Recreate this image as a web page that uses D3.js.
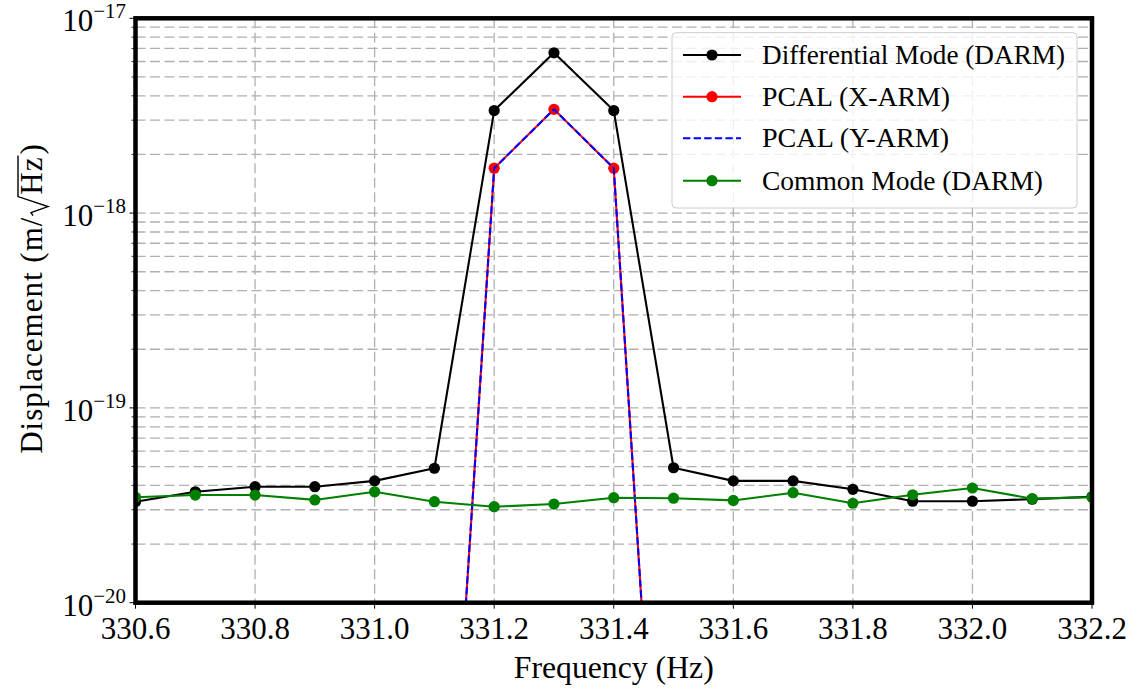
<!DOCTYPE html>
<html>
<head>
<meta charset="utf-8">
<script src="https://cdn.jsdelivr.net/npm/d3@7"></script>
</head>
<body style="margin:0;padding:0;background:#fff">
<svg id="chart" width="1137" height="689" style="display:block"></svg>
<script>
// ---------------- data ----------------
const frequencies = [330.6, 330.7, 330.8, 330.9, 331.0, 331.1, 331.2, 331.3, 331.4, 331.5, 331.6, 331.7, 331.8, 331.9, 332.0, 332.1, 332.2];
const darmDifferential = [3.30e-20, 3.71e-20, 3.94e-20, 3.94e-20, 4.22e-20, 4.90e-20, 3.36e-18, 6.65e-18, 3.36e-18, 4.93e-20, 4.22e-20, 4.22e-20, 3.82e-20, 3.32e-20, 3.32e-20, 3.40e-20, 3.50e-20];
const pcalX = [2.0e-23, 2.5e-23, 2.2e-23, 3.0e-23, 2.6e-23, 3.3e-23, 1.70e-18, 3.41e-18, 1.70e-18, 2.7e-23, 2.4e-23, 2.8e-23, 2.3e-23, 2.1e-23, 2.6e-23, 2.2e-23, 2.4e-23];
const pcalY = [2.0e-23, 2.5e-23, 2.2e-23, 3.0e-23, 2.6e-23, 3.3e-23, 1.70e-18, 3.41e-18, 1.70e-18, 2.7e-23, 2.4e-23, 2.8e-23, 2.3e-23, 2.1e-23, 2.6e-23, 2.2e-23, 2.4e-23];
const darmCommon = [3.48e-20, 3.57e-20, 3.57e-20, 3.37e-20, 3.71e-20, 3.30e-20, 3.11e-20, 3.21e-20, 3.46e-20, 3.44e-20, 3.35e-20, 3.67e-20, 3.24e-20, 3.58e-20, 3.88e-20, 3.42e-20, 3.48e-20];
const xTicks = [330.6, 330.8, 331.0, 331.2, 331.4, 331.6, 331.8, 332.0, 332.2];
const xTickLabels = ["330.6", "330.8", "331.0", "331.2", "331.4", "331.6", "331.8", "332.0", "332.2"];
const yTicks = [1e-20, 1e-19, 1e-18, 1e-17];
const yTickExponents = ["−20", "−19", "−18", "−17"];
const seriesNames = ["Differential Mode (DARM)", "PCAL (X-ARM)", "PCAL (Y-ARM)", "Common Mode (DARM)"];
const xLabel = "Frequency (Hz)";

// ---------------- layout ----------------
const FAM = "Liberation Serif";
function serif(sel) {
  return sel.attr("font-family", FAM).style("font-family", '"Liberation Serif"', "important");
}
const svg = d3.select("#chart");
serif(svg);
const L = 135.5, R = 1092, T = 18.3, B = 602.7;
const x = d3.scaleLinear().domain([330.6, 332.2]).range([L, R]);
const y = d3.scaleLog().domain([1e-20, 1e-17]).range([B, T]);

const gridColor = "#b0b0b0";

const minorY = [];
for (let e = -20; e < -17; e++) for (let m = 2; m <= 9; m++) minorY.push(m * Math.pow(10, e));

// grid
const grid = svg.append("g");
grid.selectAll("line.hy").data(yTicks.concat(minorY)).join("line")
  .attr("x1", L).attr("x2", R).attr("y1", d => y(d)).attr("y2", d => y(d))
  .attr("stroke", gridColor).attr("stroke-width", 1.3).attr("stroke-dasharray", "10,4.5");
grid.selectAll("line.vx").data(xTicks).join("line")
  .attr("x1", d => x(d)).attr("x2", d => x(d)).attr("y1", T).attr("y2", B)
  .attr("stroke", gridColor).attr("stroke-width", 1.3).attr("stroke-dasharray", "10,4.5");

// clip
svg.append("defs").append("clipPath").attr("id", "clip")
  .append("rect").attr("x", L).attr("y", T).attr("width", R - L).attr("height", B - T);

const plot = svg.append("g").attr("clip-path", "url(#clip)");
const line = d3.line().x((d, i) => x(frequencies[i])).y(d => y(d));

function drawSeries(vals, color, dash, markers) {
  plot.append("path").datum(vals).attr("d", line)
    .attr("fill", "none").attr("stroke", color).attr("stroke-width", 2.1)
    .attr("stroke-dasharray", dash || null).attr("stroke-linejoin", "round");
  if (markers) {
    plot.append("g").selectAll("circle").data(vals).join("circle")
      .attr("cx", (d, i) => x(frequencies[i])).attr("cy", d => y(d)).attr("r", 5.6)
      .attr("fill", color);
  }
}
drawSeries(darmDifferential, "#000000", null, true);
drawSeries(pcalX, "#ff0000", null, true);
drawSeries(pcalY, "#0000ff", "7.4,3.2", false);
drawSeries(darmCommon, "#008000", null, true);

// axes ticks
const axes = svg.append("g");
axes.selectAll("line.xt").data(xTicks).join("line")
  .attr("x1", d => x(d)).attr("x2", d => x(d)).attr("y1", B).attr("y2", B + 6)
  .attr("stroke", "#000").attr("stroke-width", 1);
serif(axes.selectAll("text.xl").data(xTicks).join("text")
  .attr("x", d => x(d)).attr("y", B + 36).attr("text-anchor", "middle")
  .attr("font-size", 31).text((d, i) => xTickLabels[i]));
axes.selectAll("line.yt").data(yTicks).join("line")
  .attr("x1", L - 6).attr("x2", L).attr("y1", d => y(d)).attr("y2", d => y(d))
  .attr("stroke", "#000").attr("stroke-width", 1);
axes.selectAll("line.ym").data(minorY).join("line")
  .attr("x1", L - 4).attr("x2", L).attr("y1", d => y(d)).attr("y2", d => y(d))
  .attr("stroke", "#000").attr("stroke-width", 0.8);
const yl = serif(axes.selectAll("text.yl").data(yTicks).join("text")
  .attr("x", 126).attr("y", d => y(d) + 13).attr("text-anchor", "end")
  .attr("font-size", 31));
yl.append("tspan").text("10");
serif(yl.append("tspan").attr("font-size", 21).attr("dy", -13).text((d, i) => yTickExponents[i]));

// spines
svg.append("rect").attr("x", L).attr("y", T).attr("width", R - L).attr("height", B - T)
  .attr("fill", "none").attr("stroke", "#000").attr("stroke-width", 4.5);

// x label
serif(svg.append("text").attr("x", (L + R) / 2).attr("y", 678).attr("text-anchor", "middle")
  .attr("font-size", 31).attr("textLength", 200)
  .attr("lengthAdjust", "spacingAndGlyphs").text(xLabel));

// y label with radical
const yg = svg.append("g").attr("transform", `translate(42, ${(T + B) / 2}) rotate(-90)`);
const ylab = serif(yg.append("text").attr("font-size", 31).attr("text-anchor", "start").attr("letter-spacing", 1));
ylab.append("tspan").text("Displacement (m/");
ylab.append("tspan").attr("dx", 22).text("Hz");
ylab.append("tspan").attr("dx", 2).text(")");
const totalLen = ylab.node().getComputedTextLength();
ylab.attr("x", -totalLen / 2);
const ynode = ylab.node();
const n1 = "Displacement (m/".length;
const slashEnd = ynode.getEndPositionOfChar(n1 - 1).x;
const hzStart = ynode.getStartPositionOfChar(n1).x;
const hzEnd = ynode.getEndPositionOfChar(n1 + 1).x;
const radTop = -24;
yg.append("path")
  .attr("d", `M${slashEnd + 1},-9 L${slashEnd + 4},-11 L${slashEnd + 10},6 L${hzStart - 2},${radTop} L${hzEnd + 1},${radTop}`)
  .attr("fill", "none").attr("stroke", "#000").attr("stroke-width", 1.4).attr("stroke-linejoin", "miter");

// legend
const lg = svg.append("g");
lg.append("rect").attr("x", 672).attr("y", 32.7).attr("width", 405).attr("height", 175.3)
  .attr("rx", 4).attr("fill", "#fff").attr("fill-opacity", 0.8).attr("stroke", "#cccccc").attr("stroke-width", 1);
const legendColors = ["#000000", "#ff0000", "#0000ff", "#008000"];
const legendDash = [null, null, "7.4,3.2", null];
const legendMarker = [true, true, false, true];
const legendY = [55, 96.7, 138.3, 180.7];
const legendLen = [303, 188, 187, 281];
seriesNames.forEach((name, i) => {
  lg.append("line").attr("x1", 683).attr("x2", 741).attr("y1", legendY[i]).attr("y2", legendY[i])
    .attr("stroke", legendColors[i]).attr("stroke-width", 2.1).attr("stroke-dasharray", legendDash[i]);
  if (legendMarker[i]) lg.append("circle").attr("cx", 712).attr("cy", legendY[i]).attr("r", 5.6).attr("fill", legendColors[i]);
  serif(lg.append("text").attr("x", 762).attr("y", legendY[i] + 9).attr("font-size", 28)
    .attr("textLength", legendLen[i]).attr("lengthAdjust", "spacingAndGlyphs").text(name));
});
</script>
</body>
</html>
